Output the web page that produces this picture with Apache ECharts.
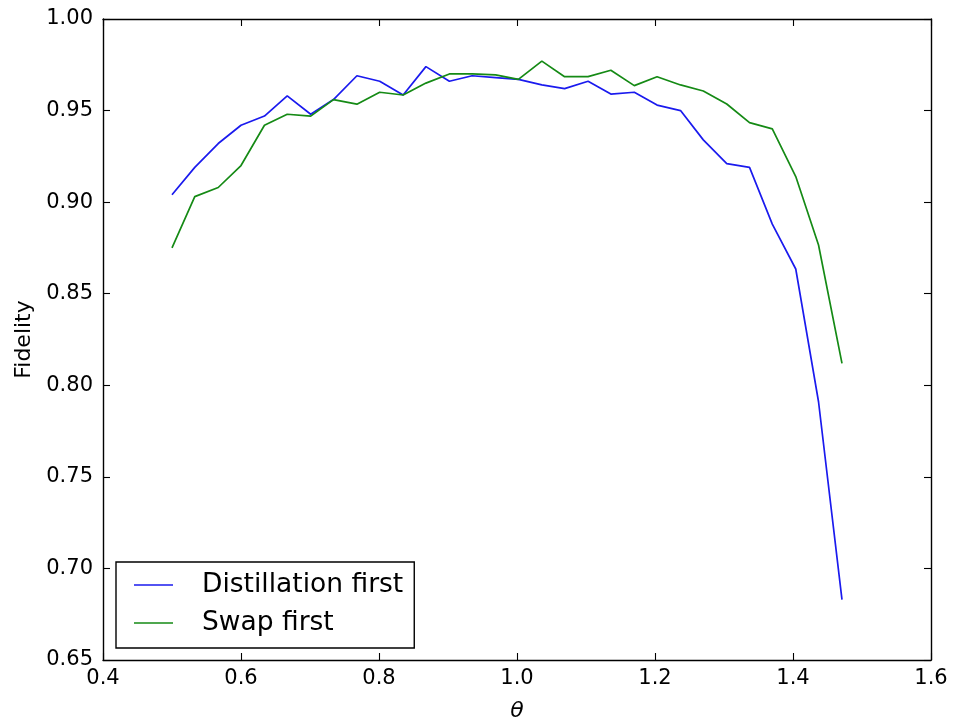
<!DOCTYPE html>
<html>
<head>
<meta charset="utf-8">
<script src="https://cdn.jsdelivr.net/npm/echarts@6/dist/echarts.min.js"></script>
<style>
html,body{margin:0;padding:0;background:#fff;}
#chart{width:953px;height:721px;}
</style>
</head>
<body>
<div id="chart"></div>
<script>
const theta = [0.500, 0.533, 0.567, 0.600, 0.634, 0.667, 0.701, 0.734, 0.768, 0.801,
  0.835, 0.868, 0.902, 0.935, 0.969, 1.002, 1.036, 1.069, 1.103, 1.136,
  1.170, 1.203, 1.237, 1.270, 1.304, 1.337, 1.370, 1.404, 1.437, 1.471];
const distillationFirst = [0.904, 0.919, 0.932, 0.942, 0.947, 0.958, 0.948, 0.956, 0.969, 0.966,
  0.9585, 0.974, 0.966, 0.969, 0.968, 0.967, 0.964, 0.962, 0.966, 0.959,
  0.960, 0.953, 0.950, 0.934, 0.921, 0.919, 0.888, 0.8635, 0.791, 0.683];
const swapFirst = [0.875, 0.903, 0.908, 0.920, 0.942, 0.948, 0.947, 0.956, 0.9535, 0.960,
  0.9585, 0.965, 0.970, 0.970, 0.9695, 0.967, 0.977, 0.9685, 0.9685, 0.972,
  0.9636, 0.9685, 0.964, 0.9607, 0.9536, 0.9434, 0.940, 0.914, 0.8766, 0.812];
const seriesNames = ['Distillation first', 'Swap first'];
const xTickStep = 0.2, xMin = 0.4, xMax = 1.6;
const yTickStep = 0.05, yMin = 0.65, yMax = 1.0;

const font = 'DejaVu Sans';
const pair = (xs, ys) => xs.map((x, i) => [x, ys[i]]);

const axisLine = {show: true, lineStyle: {color: '#000', width: 1.4}};
const tick = {show: true, inside: true, length: 7, lineStyle: {color: '#000', width: 1.1}};

const chart = echarts.init(document.getElementById('chart'), null, {renderer: 'canvas'});
chart.setOption({
  animation: false,
  backgroundColor: '#fff',
  grid: {left: 103, right: 22, top: 19, bottom: 61, containLabel: false, outerBoundsMode: 'none'},
  xAxis: [{
    type: 'value', min: xMin, max: xMax, interval: xTickStep, position: 'bottom',
    axisLine: axisLine, axisTick: tick, splitLine: {show: false},
    axisLabel: {formatter: v => v.toFixed(1), fontFamily: font, fontSize: 21, color: '#000', margin: 8},
    name: 'θ', nameLocation: 'middle', nameGap: 40,
    nameTextStyle: {fontFamily: font, fontStyle: 'italic', fontSize: 22, color: '#000'}
  }, {
    type: 'value', min: xMin, max: xMax, interval: xTickStep, position: 'top',
    axisLine: axisLine, axisTick: tick, splitLine: {show: false}, axisLabel: {show: false}
  }],
  yAxis: [{
    type: 'value', min: yMin, max: yMax, interval: yTickStep, position: 'left',
    axisLine: axisLine, axisTick: tick, splitLine: {show: false},
    axisLabel: {formatter: v => v.toFixed(2), fontFamily: font, fontSize: 21, color: '#000', margin: 10},
    name: 'Fidelity', nameLocation: 'middle', nameGap: 68, nameRotate: 90,
    nameTextStyle: {fontFamily: font, fontSize: 22, color: '#000'}
  }, {
    type: 'value', min: yMin, max: yMax, interval: yTickStep, position: 'right',
    axisLine: axisLine, axisTick: tick, splitLine: {show: false}, axisLabel: {show: false}
  }],
  legend: {
    data: seriesNames,
    orient: 'vertical',
    left: 116, top: 562,
    padding: [9, 11, 11, 18],
    itemGap: 10,
    itemWidth: 39, itemHeight: 1.6,
    icon: 'rect',
    borderColor: '#000', borderWidth: 1.4, borderRadius: 0,
    backgroundColor: '#fff',
    textStyle: {fontFamily: font, fontSize: 26.5, color: '#000', lineHeight: 28, padding: [0, 0, 0, 24]}
  },
  series: [{
    name: seriesNames[0], type: 'line', symbol: 'none', xAxisIndex: 0, yAxisIndex: 0,
    data: pair(theta, distillationFirst),
    lineStyle: {color: '#1a1aee', width: 1.7}, itemStyle: {color: '#1a1aee'}
  }, {
    name: seriesNames[1], type: 'line', symbol: 'none', xAxisIndex: 0, yAxisIndex: 0,
    data: pair(theta, swapFirst),
    lineStyle: {color: '#158a15', width: 1.7}, itemStyle: {color: '#158a15'}
  }]
});
</script>
</body>
</html>
